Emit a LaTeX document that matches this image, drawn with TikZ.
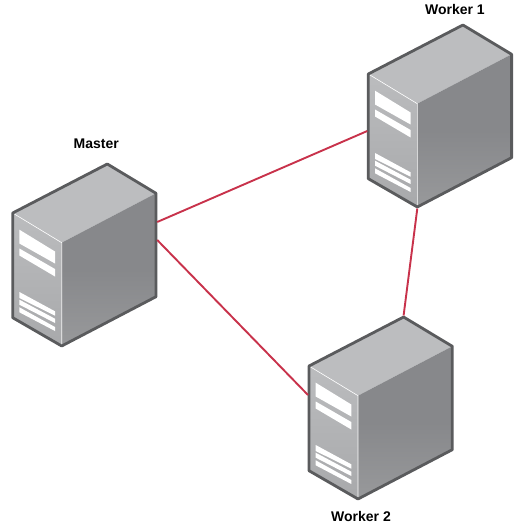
\documentclass[tikz,border=0pt]{standalone}
\usepackage{fontspec}
\setmainfont{Liberation Sans}
\usetikzlibrary{positioning}
\definecolor{caseline}{HTML}{5A5B5D}
\definecolor{casetop}{HTML}{BCBDBF}
\definecolor{casefrontA}{HTML}{BBBCBE}
\definecolor{casefrontB}{HTML}{A8A9AB}
\definecolor{casesideA}{HTML}{87888B}
\definecolor{casesideB}{HTML}{98999B}
\definecolor{linkred}{HTML}{C8324B}

\begin{document}
\begin{tikzpicture}[x=1pt, y=-1pt, thick]
    % Styles
    \tikzstyle{servername} = [font=\bfseries\fontsize{14}{16}\selectfont, inner sep=0pt, text=black]
    \tikzstyle{link} = [draw=linkred, line width=1.9pt]
    \tikzstyle{slot} = [fill=white, draw=none]
    \tikzset{
        pics/server/.style={code={
            \fill [casetop] (0,0) -- (94.6,-49) -- (143.3,-19.7) -- (49,29.7) -- cycle;
            \shade [top color=casefrontA, bottom color=casefrontB] (0,0) -- (49,29.7) -- (49,133) -- (0,104.7) -- cycle;
            \shade [bottom color=casesideB, top color=casesideA, middle color=casesideA] (49,29.7) -- (143.3,-19.7) -- (143.3,83.7) -- (49,133) -- cycle;
            % Panel
            \fill [slot] (6.7,16.7) -- (42.3,38.5) -- (42.3,50.5) -- (6.7,30.5) -- cycle;
            \fill [slot] (6.7,35.5) -- (42.3,56) -- (42.3,63.5) -- (6.7,42.5) -- cycle;
            \fill [slot] (6.7,79) -- (42.3,98.3) -- (42.3,102.7) -- (6.7,85) -- cycle;
            \fill [slot] (6.7,86.7) -- (42.3,105.7) -- (42.3,110) -- (6.7,91.7) -- cycle;
            \fill [slot] (6.7,94.3) -- (42.3,114) -- (42.3,118) -- (6.7,99.3) -- cycle;
            \draw [white, line width=0.6pt] (0,0) -- (49,29.7) -- (49,133);
            \draw [caseline, line width=2.8pt, line join=round] (0,0) -- (94.6,-49) -- (143.3,-19.7) -- (143.3,83.7) -- (49,133) -- (0,104.7) -- cycle;
            % Ports
            \coordinate (-north) at (94.6,-50.5);
            \coordinate (-south) at (49,134.5);
            \coordinate (-east a) at (144.5,9);
            \coordinate (-east b) at (144.5,27);
            \coordinate (-west a) at (-1,57);
            \coordinate (-west b) at (-1,29);
        }}
    }

    \useasboundingbox (0,0) rectangle (525,526);

    % Servers
    \pic (Master) at (12.7,213) {server};
    \pic (Worker1) at (368.3,74) {server};
    \pic (Worker2) at (309,366) {server};

    % Labels
    \node [servername, above=13pt of Master-north, xshift=-11pt] (MasterName) {Master};
    \node [servername, above=8pt of Worker1-north, xshift=-8pt] (WorkerOneName) {Worker 1};
    \node [servername, below=10pt of Worker2-south, xshift=3pt] (WorkerTwoName) {Worker 2};

    % Connections
    \draw [link] (Master-east a) -- (Worker1-west a);
    \draw [link] (Master-east b) -- (Worker2-west b);
    \draw [link] (Worker1-south) -- (Worker2-north);
\end{tikzpicture}
\end{document}
